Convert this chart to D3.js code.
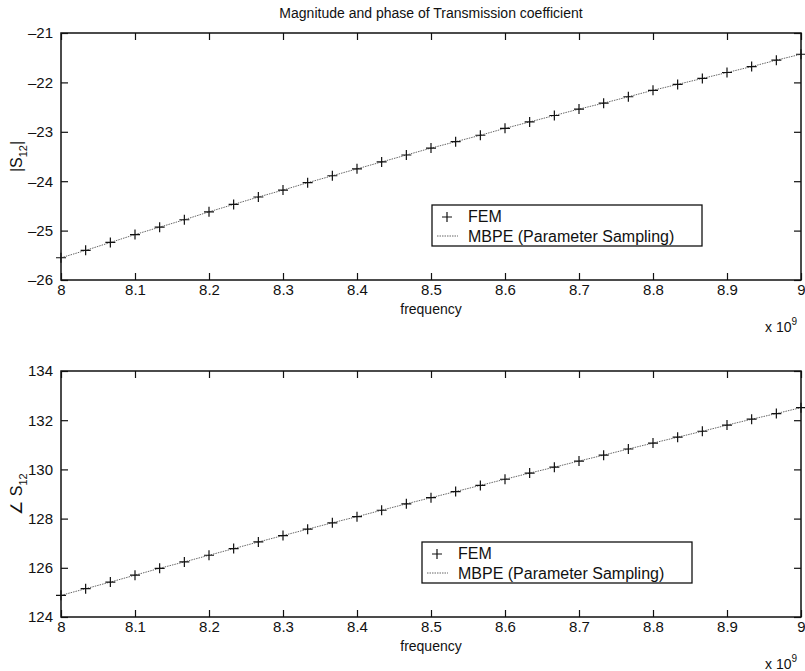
<!DOCTYPE html>
<html>
<head>
<meta charset="utf-8">
<script src="https://cdn.jsdelivr.net/npm/d3@7/dist/d3.min.js"></script>
<style>
  html, body { margin: 0; padding: 0; background: #fff; }
  svg text { font-family: "Liberation Sans", Arial, Helvetica, sans-serif; fill: #111; }
</style>
</head>
<body>
<svg id="chart" width="805" height="671"></svg>
<script>
// sample frequencies (x 1e9 Hz)
var freq = [8.0000, 8.0333, 8.0667, 8.1000, 8.1333, 8.1667, 8.2000, 8.2333, 8.2667, 8.3000,
            8.3333, 8.3667, 8.4000, 8.4333, 8.4667, 8.5000, 8.5333, 8.5667, 8.6000, 8.6333,
            8.6667, 8.7000, 8.7333, 8.7667, 8.8000, 8.8333, 8.8667, 8.9000, 8.9333, 8.9667, 9.0000];

// |S12| in dB
var magS12 = [-25.55, -25.40, -25.24, -25.08, -24.93, -24.78, -24.62, -24.47, -24.32, -24.18,
              -24.03, -23.89, -23.75, -23.61, -23.47, -23.33, -23.20, -23.07, -22.93, -22.80,
              -22.67, -22.54, -22.42, -22.29, -22.16, -22.04, -21.92, -21.80, -21.68, -21.55, -21.43];

// phase of S12 in degrees
var phaseS12 = [124.88, 125.15, 125.42, 125.70, 125.98, 126.24, 126.51, 126.78, 127.05, 127.31,
                127.57, 127.83, 128.08, 128.34, 128.60, 128.85, 129.10, 129.35, 129.60, 129.85,
                130.09, 130.34, 130.58, 130.83, 131.07, 131.31, 131.55, 131.80, 132.04, 132.27, 132.51];

var xTicks = [8, 8.1, 8.2, 8.3, 8.4, 8.5, 8.6, 8.7, 8.8, 8.9, 9];
var magTicks = [-26, -25, -24, -23, -22, -21];
var phaseTicks = [124, 126, 128, 130, 132, 134];
var legendLabels = ['FEM', 'MBPE (Parameter Sampling)'];

var svg = d3.select('#chart');

svg.append('text')
    .attr('x', 431)
    .attr('y', 18)
    .attr('text-anchor', 'middle')
    .style('font-size', '14px')
    .text('Magnitude and phase of Transmission coefficient');

function plusPath(s) {
    return 'M' + (-s) + ',0H' + s + 'M0,' + (-s) + 'V' + s;
}

function drawPanel(opt) {
    var x = d3.scaleLinear().domain([8, 9]).range([opt.left, opt.right]);
    var y = d3.scaleLinear().domain(opt.yDomain).range([opt.bottom, opt.top]);
    var g = svg.append('g');
    var fmt = function (d) { return String(d).replace('-', '\u2013'); };

    // frame ticks, pointing inward on all four sides
    g.append('g')
        .attr('transform', 'translate(0,' + opt.bottom + ')')
        .call(d3.axisBottom(x).tickValues(xTicks).tickSizeInner(-7).tickSizeOuter(0)
            .tickPadding(4).tickFormat(function (d) { return String(d); }))
        .call(function (a) {
            a.selectAll('text').style('font-size', '15px').attr('fill', '#111');
        });
    g.append('g')
        .attr('transform', 'translate(0,' + opt.top + ')')
        .call(d3.axisTop(x).tickValues(xTicks).tickSizeInner(-7).tickSizeOuter(0).tickFormat(''));
    g.append('g')
        .attr('transform', 'translate(' + opt.left + ',0)')
        .call(d3.axisLeft(y).tickValues(opt.yTicks).tickSizeInner(-7).tickSizeOuter(0)
            .tickPadding(8).tickFormat(fmt))
        .call(function (a) {
            a.selectAll('text').style('font-size', '15px').attr('fill', '#111');
        });
    g.append('g')
        .attr('transform', 'translate(' + opt.right + ',0)')
        .call(d3.axisRight(y).tickValues(opt.yTicks).tickSizeInner(-7).tickSizeOuter(0).tickFormat(''));

    g.selectAll('.domain').remove();
    g.selectAll('.tick line').attr('stroke', '#111').attr('stroke-width', 1.2);

    g.append('rect')
        .attr('x', opt.left).attr('y', opt.top)
        .attr('width', opt.right - opt.left).attr('height', opt.bottom - opt.top)
        .attr('fill', 'none').attr('stroke', '#111').attr('stroke-width', 1.5);

    var line = d3.line()
        .x(function (d, i) { return x(freq[i]); })
        .y(function (d) { return y(d); });

    g.append('path')
        .datum(opt.values)
        .attr('d', line)
        .attr('fill', 'none')
        .attr('stroke', '#666')
        .attr('stroke-width', 1)
        .attr('stroke-dasharray', '1.5,1');

    g.selectAll('.fem')
        .data(opt.values)
        .enter()
        .append('path')
        .attr('class', 'fem')
        .attr('d', plusPath(5))
        .attr('transform', function (d, i) {
            return 'translate(' + x(freq[i]) + ',' + y(d) + ')';
        })
        .attr('stroke', '#111')
        .attr('stroke-width', 1.2);

    // axis labels
    g.append('text')
        .attr('x', (opt.left + opt.right) / 2)
        .attr('y', opt.bottom + 34)
        .attr('text-anchor', 'middle')
        .style('font-size', '14px')
        .text('frequency');

    var expo = g.append('text')
        .attr('x', 765)
        .attr('y', opt.bottom + 52)
        .style('font-size', '14px');
    expo.append('tspan').text('x 10');
    expo.append('tspan').attr('dy', -7).style('font-size', '10px').text('9');

    var yl = g.append('text')
        .attr('transform', 'translate(' + 22 + ',' + ((opt.top + opt.bottom) / 2) + ') rotate(-90)')
        .attr('text-anchor', 'middle')
        .style('font-size', '16px');
    yl.append('tspan').text(opt.yLabel);
    yl.append('tspan').attr('dy', 5).style('font-size', '11px').text('12');
    if (opt.yLabelEnd) {
        yl.append('tspan').attr('dy', -5).text(opt.yLabelEnd);
    }

    // legend
    var lg = g.append('g').attr('transform', 'translate(' + opt.legendX + ',' + opt.legendY + ')');
    lg.append('rect')
        .attr('width', 270).attr('height', 41)
        .attr('fill', '#fff').attr('stroke', '#111').attr('stroke-width', 1.3);
    lg.append('path')
        .attr('d', plusPath(5))
        .attr('transform', 'translate(15,12)')
        .attr('stroke', '#111').attr('stroke-width', 1.2);
    lg.append('line')
        .attr('x1', 5).attr('x2', 26).attr('y1', 31).attr('y2', 31)
        .attr('stroke', '#666').attr('stroke-dasharray', '1.5,1');
    lg.selectAll('.lab')
        .data(legendLabels)
        .enter()
        .append('text')
        .attr('class', 'lab')
        .attr('x', 36)
        .attr('y', function (d, i) { return 17 + i * 20; })
        .style('font-size', '16px')
        .text(function (d) { return d; });
}

drawPanel({
    left: 61, right: 801, top: 33, bottom: 280,
    yDomain: [-26, -21], yTicks: magTicks, values: magS12,
    yLabel: '|S', yLabelEnd: '|',
    legendX: 432, legendY: 205
});

drawPanel({
    left: 61, right: 801, top: 371, bottom: 617,
    yDomain: [124, 134], yTicks: phaseTicks, values: phaseS12,
    yLabel: '\u2220 S', yLabelEnd: null,
    legendX: 422, legendY: 542
});
</script>
</body>
</html>
